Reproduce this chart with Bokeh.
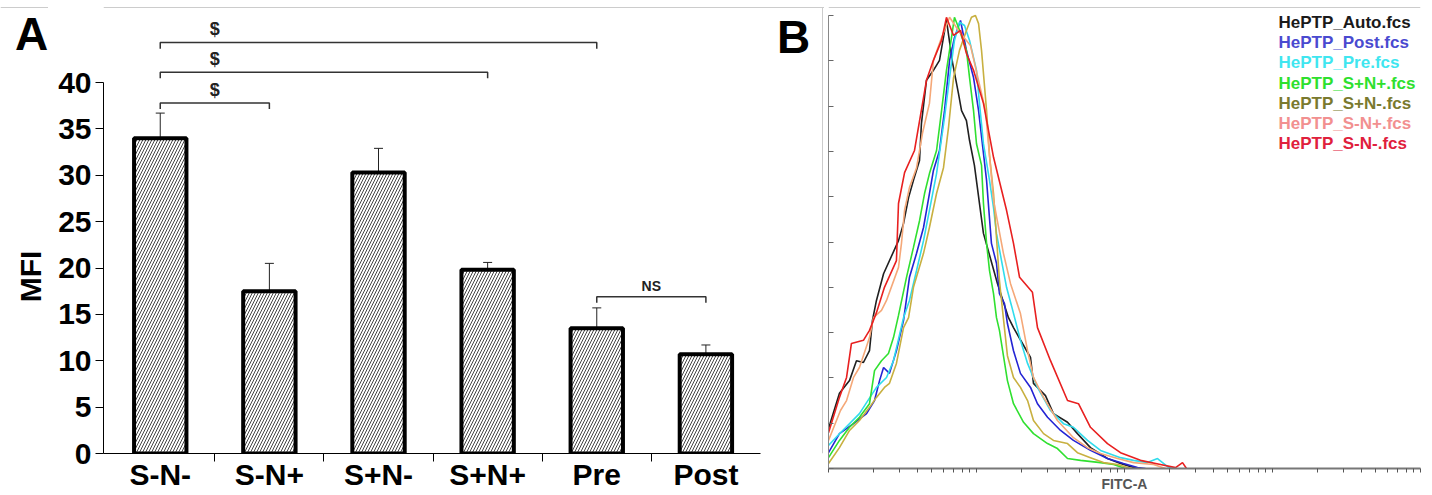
import numpy as np
from bokeh.plotting import figure
from bokeh.layouts import row
from bokeh.models import ColumnDataSource, FixedTicker, Whisker, TeeHead, Range1d
from bokeh.core.properties import value
from bokeh.embed import file_html
from bokeh.resources import INLINE

FONT = "Liberation Sans"

# ---------------- Panel A data ----------------
categories = ["S-N-", "S-N+", "S+N-", "S+N+", "Pre", "Post"]
mfi = [34.0, 17.5, 30.3, 19.8, 13.5, 10.7]
mfi_err = [2.7, 3.0, 2.6, 0.8, 2.2, 1.0]
y_ticks = [0, 5, 10, 15, 20, 25, 30, 35, 40]

comp_start = [0, 0, 0, 4]
comp_end = [1, 3, 4, 5]
comp_height = [37.8, 41.1, 44.3, 16.9]
comp_label = ["$", "$", "$", "NS"]
comp_font = ["18px", "18px", "18px", "14px"]

# ---------------- Panel B data (x = log10 FITC-A, y = % of max) ----------------
series_names = ["HePTP_Auto.fcs", "HePTP_Post.fcs", "HePTP_Pre.fcs", "HePTP_S+N+.fcs",
                "HePTP_S+N-.fcs", "HePTP_S-N+.fcs", "HePTP_S-N-.fcs"]
legend_colors = ["#1a1a1a", "#4a4ad0", "#3fe6f0", "#2ee02e", "#7a7a2e", "#f29090", "#e0203c"]
line_colors = ["#202020", "#2424d4", "#30dcec", "#30e030", "#c8b040", "#f5a878", "#e82020"]

auto_x = [0.0, 0.074, 0.142, 0.189, 0.236, 0.277, 0.297, 0.324, 0.372, 0.473, 0.507, 0.541, 0.574,
          0.615, 0.628, 0.662, 0.709, 0.750, 0.797, 0.838, 0.878, 0.899, 0.932, 0.953, 0.986, 1.047,
          1.142, 1.216, 1.250, 1.365, 1.385, 1.466, 1.520, 1.615, 1.682, 1.770, 1.885, 1.973, 2.061, 2.108]
auto_y = [8.8, 16.6, 19.4, 23.8, 23.4, 26.0, 32.7, 37.1, 43.0, 50.3, 54.1, 59.8, 63.6,
          68.0, 76.2, 85.7, 87.9, 90.1, 99.0, 89.6, 82.8, 79.0, 76.8, 72.4, 66.9, 51.9,
          40.8, 33.3, 31.1, 24.5, 18.8, 16.1, 12.1, 10.2, 7.7, 4.6, 2.2, 1.1, 0.2, 0.0]

post_x = [0.0, 0.074, 0.169, 0.257, 0.311, 0.345, 0.372, 0.412, 0.459, 0.507, 0.547, 0.595, 0.642,
          0.682, 0.709, 0.750, 0.784, 0.818, 0.851, 0.892, 0.932, 0.980, 1.014, 1.068, 1.101, 1.135,
          1.155, 1.189, 1.209, 1.250, 1.297, 1.365, 1.412, 1.480, 1.568, 1.655, 1.770, 1.885, 1.993,
          2.088, 2.142]
post_y = [3.5, 7.7, 9.9, 12.1, 15.0, 19.4, 22.3, 21.0, 26.0, 32.7, 42.2, 47.5, 53.2,
          60.7, 65.8, 70.2, 79.0, 90.1, 95.1, 98.9, 92.3, 86.3, 79.0, 63.6, 49.7, 45.3,
          38.6, 36.4, 32.0, 26.0, 21.0, 17.9, 14.3, 11.3, 8.4, 6.2, 4.0, 2.2, 1.1,
          0.2, 0.0]

pre_x = [0.0, 0.081, 0.209, 0.324, 0.392, 0.439, 0.507, 0.547, 0.595, 0.642, 0.682, 0.730, 0.784,
         0.818, 0.851, 0.885, 0.919, 0.953, 1.000, 1.020, 1.047, 1.088, 1.115, 1.135, 1.169, 1.203,
         1.236, 1.297, 1.345, 1.412, 1.500, 1.588, 1.655, 1.750, 1.838, 1.973, 2.061, 2.155, 2.223,
         2.291, 2.324]
pre_y = [5.1, 7.9, 12.1, 17.9, 20.1, 23.8, 33.3, 37.1, 43.7, 50.3, 57.0, 65.1, 77.5,
         86.3, 94.5, 98.5, 97.8, 94.5, 87.9, 80.6, 71.7, 63.6, 57.6, 51.9, 45.9, 40.0,
         36.0, 28.3, 23.2, 17.9, 12.8, 9.9, 9.1, 6.2, 4.0, 2.4, 1.8, 1.3, 2.2,
         0.4, 0.0]

spnp_x = [0.0, 0.074, 0.142, 0.209, 0.277, 0.311, 0.358, 0.405, 0.439, 0.473, 0.527, 0.574, 0.615,
          0.649, 0.682, 0.730, 0.764, 0.797, 0.831, 0.851, 0.878, 0.932, 0.953, 0.980, 1.000, 1.034,
          1.047, 1.068, 1.088, 1.115, 1.135, 1.155, 1.182, 1.209, 1.250, 1.318, 1.385, 1.480, 1.547,
          1.615, 1.703, 1.838, 1.926, 2.007]
spnp_y = [2.4, 6.2, 9.1, 11.3, 14.3, 21.6, 23.8, 25.4, 28.9, 33.8, 42.2, 48.8, 54.7,
          60.7, 65.1, 70.2, 79.0, 87.9, 95.1, 99.6, 97.4, 92.3, 86.3, 79.0, 71.7, 66.9,
          58.5, 49.7, 43.7, 38.6, 33.3, 30.5, 24.9, 19.4, 14.3, 10.2, 7.7, 5.5, 4.4,
          2.2, 1.8, 1.3, 0.9, 0.0]

spnm_x = [0.0, 0.074, 0.142, 0.209, 0.277, 0.324, 0.378, 0.412, 0.459, 0.507, 0.541, 0.574, 0.642,
          0.682, 0.730, 0.777, 0.811, 0.845, 0.885, 0.932, 0.966, 0.993, 1.014, 1.034, 1.068, 1.088,
          1.115, 1.135, 1.155, 1.182, 1.209, 1.250, 1.297, 1.345, 1.385, 1.453, 1.520, 1.615, 1.682,
          1.770, 1.858, 1.953, 2.020, 2.054]
spnm_y = [1.1, 4.6, 8.4, 10.6, 13.5, 15.7, 17.9, 18.8, 23.2, 31.1, 33.3, 40.0, 47.5,
          53.2, 60.7, 66.4, 75.3, 86.3, 92.3, 96.7, 99.6, 100.0, 98.2, 92.3, 79.0, 69.1,
          60.7, 51.0, 41.5, 33.1, 24.9, 20.1, 17.9, 15.0, 10.6, 7.7, 6.2, 5.5, 3.5,
          2.4, 1.3, 0.9, 0.2, 0.0]

smnp_x = [0.0, 0.081, 0.122, 0.169, 0.209, 0.277, 0.304, 0.358, 0.392, 0.473, 0.493, 0.514, 0.547,
          0.595, 0.635, 0.682, 0.709, 0.757, 0.818, 0.878, 0.959, 1.061, 1.115, 1.182, 1.230, 1.297,
          1.345, 1.385, 1.453, 1.547, 1.655, 1.750, 1.838, 1.953, 2.061, 2.196, 2.277]
smnp_y = [6.2, 12.8, 15.0, 20.1, 22.3, 28.9, 33.3, 34.9, 37.1, 44.4, 49.7, 57.0, 62.0,
          66.4, 74.0, 80.6, 90.1, 94.5, 99.6, 96.7, 93.4, 79.0, 59.2, 47.5, 40.8, 34.2,
          26.0, 20.1, 15.7, 10.6, 6.8, 4.6, 3.3, 2.2, 1.3, 0.9, 0.0]

smnm_x = [0.0, 0.074, 0.122, 0.155, 0.236, 0.277, 0.324, 0.378, 0.459, 0.473, 0.514, 0.581, 0.662,
          0.709, 0.764, 0.797, 0.845, 0.892, 0.932, 0.980, 1.047, 1.115, 1.203, 1.250, 1.291, 1.378,
          1.412, 1.500, 1.615, 1.689, 1.770, 1.885, 1.973, 2.108, 2.243, 2.345, 2.392, 2.419]
smnm_y = [7.9, 15.7, 20.1, 27.6, 28.3, 30.5, 34.4, 40.0, 45.9, 58.5, 65.3, 70.2, 85.7,
          90.1, 94.5, 99.6, 95.6, 96.7, 91.6, 87.9, 80.6, 68.7, 57.0, 49.7, 42.2, 38.9,
          31.1, 23.8, 15.0, 14.3, 9.1, 5.5, 3.5, 1.8, 0.9, 0.2, 1.3, 0.0]

series_x = [auto_x, post_x, pre_x, spnp_x, spnm_x, smnp_x, smnm_x]
series_y = [auto_y, post_y, pre_y, spnp_y, spnm_y, smnp_y, smnm_y]
pct_ticks = [0, 10, 20, 30, 40, 50, 60, 70, 80, 90, 100]
n_decades = 4

GRAY = "#cccccc"
TOTAL_H = 494

# ================= Left strip (panel letter "A" and the "MFI" axis title) =================
pL = figure(title=None, frame_width=48, frame_height=TOTAL_H, x_range=Range1d(0, 48),
            y_range=Range1d(TOTAL_H, 0), x_axis_location=None, y_axis_location=None,
            output_backend="svg", toolbar_location=None,
            min_border_left=0, min_border_right=0, min_border_top=0, min_border_bottom=0)
pL.outline_line_color = None
pL.xgrid.visible = False
pL.ygrid.visible = False
pL.segment(x0=[0], y0=[7], x1=[48], y1=[7], line_color=GRAY, line_width=1)
pL.text(x=[31], y=[33], text=["A"], text_font=value(FONT), text_font_style="bold",
        text_font_size="46px", text_align="center", text_baseline="middle", text_color="black")
pL.text(x=[30], y=[276], text=["MFI"], angle=np.pi / 2, text_font=value(FONT),
        text_font_style="bold", text_font_size="30px", text_align="center",
        text_baseline="middle", text_color="black")

# ================= Panel A =================
xpos = list(range(len(categories)))
A_PX = 109.13          # pixels per category
A_YPX = 9.275          # pixels per MFI unit
A_FRAME_W, A_FRAME_H = 721, 453
x_lo = -0.52
pA = figure(title=None, frame_width=A_FRAME_W, frame_height=A_FRAME_H,
            x_range=Range1d(x_lo, x_lo + A_FRAME_W / A_PX),
            y_range=Range1d(0, A_FRAME_H / A_YPX),
            output_backend="svg", toolbar_location=None,
            min_border_left=55, min_border_right=0, min_border_top=0,
            min_border_bottom=TOTAL_H - A_FRAME_H)
pA.outline_line_color = None
pA.xgrid.visible = False
pA.ygrid.visible = False

y_top = A_FRAME_H / A_YPX
gray_y = y_top - 7 / A_YPX
pA.segment(x0=[x_lo], y0=[gray_y], x1=[x_lo + A_FRAME_W / A_PX], y1=[gray_y],
           line_color=GRAY, line_width=1)
sep_x = x_lo + (822 - 103) / A_PX
pA.segment(x0=[sep_x], y0=[0], x1=[sep_x], y1=[gray_y], line_color=GRAY, line_width=1)

srcA = ColumnDataSource(dict(x=xpos, mfi=mfi,
                             upper=[m + e for m, e in zip(mfi, mfi_err)],
                             lower=[m - e for m, e in zip(mfi, mfi_err)]))
pA.vbar(x="x", top="mfi", width=0.48, source=srcA, fill_color="white",
        line_color="black", line_width=4, hatch_pattern="/", hatch_color="#444444",
        hatch_scale=6, hatch_weight=1)
pA.add_layout(Whisker(source=srcA, base="x", upper="upper", lower="lower",
                      line_color="#222222", line_width=1,
                      upper_head=TeeHead(size=9, line_color="#222222", line_width=1),
                      lower_head=TeeHead(size=9, line_color="#222222", line_width=1)))

# significance brackets
tick_drop = 0.65
br_xs = [[s, s, e, e] for s, e in zip(comp_start, comp_end)]
br_ys = [[h - tick_drop, h, h, h - tick_drop] for h in comp_height]
pA.multi_line(xs=br_xs, ys=br_ys, line_color="#333333", line_width=1.5)
srcL = ColumnDataSource(dict(x=[s + 0.5 for s in comp_start],
                             y=[h + 0.35 for h in comp_height],
                             t=comp_label, fs=comp_font))
pA.text(x="x", y="y", text="t", source=srcL, text_font=value(FONT), text_font_style="bold",
        text_font_size="fs", text_align="center", text_baseline="bottom", text_color="#222222")

# panel letter B
pA.text(x=[x_lo + (793 - 103) / A_PX], y=[(453 - 36) / A_YPX], text=["B"], text_font=value(FONT),
        text_font_style="bold", text_font_size="46px", text_align="center",
        text_baseline="middle", text_color="black")

ax = pA.xaxis[0]
ax.ticker = FixedTicker(ticks=xpos, minor_ticks=[i + 0.5 for i in xpos[:-1]])
ax.bounds = (x_lo, len(categories) - 0.5)
ax.major_label_overrides = {i: c for i, c in zip(xpos, categories)}
ax.major_tick_out = 0
ax.major_tick_in = 0
ax.minor_tick_out = 8
ax.minor_tick_in = 0
ax.minor_tick_line_color = "black"
ax.axis_line_color = "black"
ax.major_label_text_font = FONT
ax.major_label_text_font_style = "bold"
ax.major_label_text_font_size = "30px"
ax.major_label_text_color = "black"
ax.major_label_standoff = -4

ay = pA.yaxis[0]
ay.ticker = FixedTicker(ticks=y_ticks)
ay.bounds = (0, 40)
ay.major_tick_out = 8
ay.major_tick_in = 0
ay.minor_tick_out = 0
ay.minor_tick_in = 0
ay.axis_line_color = "black"
ay.major_tick_line_color = "black"
ay.major_label_text_font = FONT
ay.major_label_text_font_style = "bold"
ay.major_label_text_font_size = "30px"
ay.major_label_text_color = "black"
ay.major_label_standoff = 4

# ================= Panel B =================
B_XPX = 148.0      # pixels per decade
B_YPX = 4.53       # pixels per % of max
B_FRAME_W, B_FRAME_H = 592, 468
b_top = 100 + 15 / B_YPX
pB = figure(title=None, frame_width=B_FRAME_W, frame_height=B_FRAME_H,
            x_range=Range1d(0, n_decades), y_range=Range1d(0, b_top),
            output_backend="svg", toolbar_location=None,
            min_border_left=4, min_border_right=12, min_border_top=0,
            min_border_bottom=TOTAL_H - B_FRAME_H)
pB.outline_line_color = None
pB.xgrid.visible = False
pB.ygrid.visible = False

b_gray = b_top - 7 / B_YPX
pB.segment(x0=[0], y0=[b_gray], x1=[n_decades], y1=[b_gray], line_color=GRAY, line_width=1)

for xs_, ys_, col in zip(series_x, series_y, line_colors):
    pB.line(xs_, ys_, line_color=col, line_width=1.6)

log_ticks = [k + np.log10(m) for k in range(n_decades) for m in range(1, 10)] + [n_decades]
bx = pB.xaxis[0]
bx.ticker = FixedTicker(ticks=log_ticks)
bx.major_tick_out = 4
bx.major_tick_in = 0
bx.minor_tick_out = 0
bx.minor_tick_in = 0
bx.major_tick_line_color = "#555555"
bx.axis_line_color = "#777777"
bx.axis_line_width = 2
bx.major_label_text_font_size = "1px"
bx.major_label_text_color = None
bx.major_label_standoff = 0
bx.axis_label = "FITC-A"
bx.axis_label_standoff = 3
bx.axis_label_text_font = FONT
bx.axis_label_text_font_style = "bold"
bx.axis_label_text_font_size = "14px"
bx.axis_label_text_color = "#555555"

by = pB.yaxis[0]
by.ticker = FixedTicker(ticks=pct_ticks)
by.bounds = (0, 100)
by.major_tick_out = 0
by.major_tick_in = 5
by.minor_tick_out = 0
by.minor_tick_in = 0
by.major_tick_line_color = "#666666"
by.axis_line_color = "#888888"
by.major_label_text_font_size = "1px"
by.major_label_text_color = None
by.major_label_standoff = 0

leg_rows = list(range(len(series_names)))
srcLeg = ColumnDataSource(dict(x=[(1278 - 828) / B_XPX] * len(series_names),
                               y=[(468 - 22) / B_YPX - (20.2 / B_YPX) * r for r in leg_rows],
                               t=series_names, c=legend_colors))
pB.text(x="x", y="y", text="t", text_color="c", source=srcLeg, text_font=value(FONT),
        text_font_style="bold", text_font_size="17px", text_baseline="middle", text_align="left")

layout = row(pL, pA, pB)
open("out.html", "w").write(file_html(layout, INLINE))
